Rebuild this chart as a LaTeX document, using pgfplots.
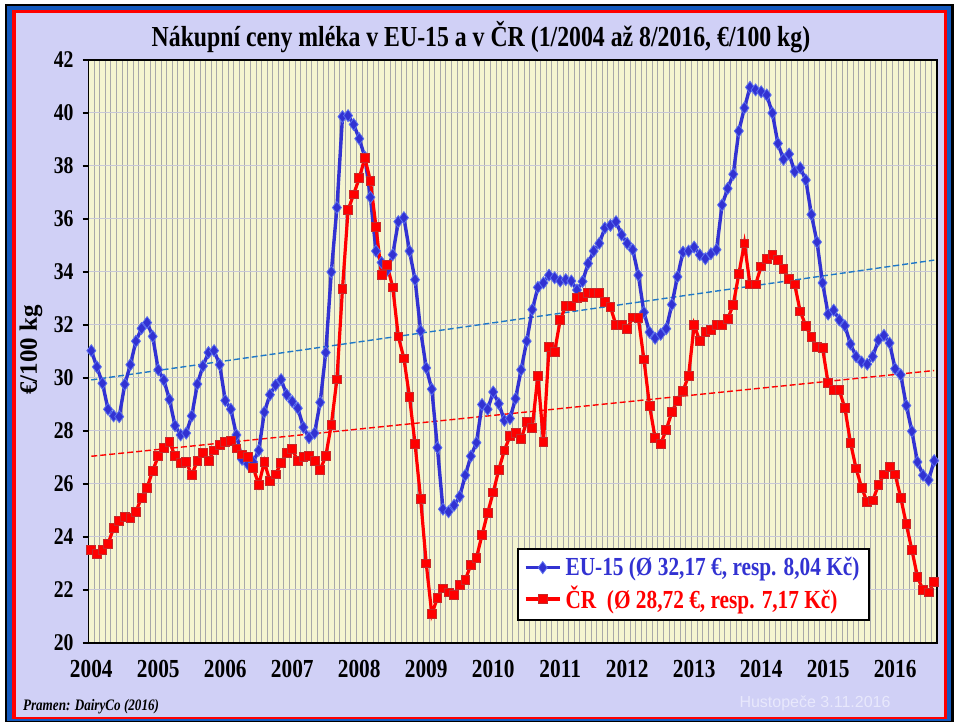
\documentclass[border=0pt]{standalone}
\usepackage{fontspec}
\setmainfont{Liberation Serif}[FakeStretch=0.82]
\newfontfamily\plainserif{Liberation Serif}
\newfontfamily\hfont{Liberation Sans}
\usepackage{pgfplots}
\usepackage{pgfplotstable}
\pgfplotsset{compat=1.18}
\definecolor{lav}{RGB}{208,208,246}
\definecolor{frameblue}{RGB}{20,90,190}
\definecolor{plotyellow}{RGB}{245,245,208}
\definecolor{vgrid}{RGB}{168,168,168}
\definecolor{hgrid}{RGB}{200,200,215}
\definecolor{eublue}{RGB}{50,50,210}
\definecolor{eumark}{RGB}{90,110,240}
\definecolor{crred}{RGB}{255,0,0}
\definecolor{crmark}{RGB}{200,40,40}
\definecolor{trendblue}{RGB}{30,120,200}
\definecolor{footwhite}{RGB}{232,232,252}

% month index (0 = 1/2004), EU-15, CR  [EUR/100 kg]
\pgfplotstableread{
m eu cr
0 31.03 23.51
1 30.42 23.36
2 29.80 23.51
3 28.82 23.75
4 28.57 24.33
5 28.54 24.62
6 29.76 24.76
7 30.50 24.71
8 31.39 24.95
9 31.87 25.49
10 32.09 25.86
11 31.57 26.50
12 30.31 27.05
13 29.92 27.37
14 29.19 27.60
15 28.20 27.05
16 27.85 26.79
17 27.92 26.83
18 28.57 26.33
19 29.77 26.88
20 30.45 27.17
21 30.96 26.88
22 31.03 27.27
23 30.50 27.49
24 29.15 27.60
25 28.82 27.63
26 27.85 27.34
27 26.93 27.12
28 26.76 27.01
29 26.83 26.62
30 27.27 25.97
31 28.71 26.83
32 29.37 26.11
33 29.73 26.36
34 29.94 26.80
35 29.37 27.17
36 29.11 27.31
37 28.86 26.86
38 28.14 27.01
39 27.75 27.05
40 27.92 26.88
41 29.08 26.54
42 30.96 27.05
43 34.00 28.24
44 36.43 29.95
45 39.86 33.37
46 39.90 36.34
47 39.57 36.93
48 39.03 37.54
49 38.34 38.30
50 36.82 37.44
51 34.79 35.70
52 34.36 33.88
53 34.07 34.26
54 34.65 33.42
55 35.90 31.57
56 36.05 30.74
57 34.79 29.29
58 33.71 27.51
59 31.78 25.43
60 30.38 23.00
61 29.58 21.09
62 27.37 21.70
63 25.05 22.06
64 24.95 21.91
65 25.20 21.81
66 25.53 22.20
67 26.33 22.38
68 27.05 22.96
69 27.56 23.22
70 29.00 24.08
71 28.82 24.91
72 29.47 25.68
73 29.03 26.54
74 28.40 27.27
75 28.47 27.80
76 29.22 27.92
77 30.31 27.70
78 31.39 28.35
79 32.58 28.13
80 33.42 30.09
81 33.59 27.60
82 33.88 31.18
83 33.78 30.99
84 33.66 32.19
85 33.71 32.72
86 33.66 32.72
87 33.32 33.01
88 33.64 33.06
89 34.32 33.20
90 34.79 33.20
91 35.08 33.20
92 35.66 32.87
93 35.76 32.67
94 35.90 32.00
95 35.40 32.00
96 35.08 31.86
97 34.84 32.29
98 33.88 32.26
99 32.48 30.70
100 31.73 28.96
101 31.50 27.74
102 31.65 27.51
103 31.86 28.05
104 32.77 28.71
105 33.82 29.15
106 34.75 29.51
107 34.79 30.09
108 34.94 32.00
109 34.65 31.39
110 34.50 31.75
111 34.69 31.80
112 34.84 32.00
113 36.53 32.00
114 37.15 32.22
115 37.69 32.77
116 39.32 33.93
117 40.19 35.08
118 40.97 33.53
119 40.87 33.53
120 40.80 34.21
121 40.68 34.50
122 40.00 34.65
123 38.85 34.46
124 38.25 34.11
125 38.45 33.74
126 37.79 33.53
127 37.93 32.51
128 37.47 31.97
129 36.17 31.54
130 35.13 31.18
131 33.59 31.13
132 32.41 29.80
133 32.56 29.54
134 32.19 29.54
135 31.97 28.86
136 31.28 27.56
137 30.81 26.59
138 30.60 25.86
139 30.52 25.31
140 30.81 25.38
141 31.43 25.96
142 31.61 26.36
143 31.32 26.64
144 30.35 26.36
145 30.12 25.49
146 28.96 24.48
147 27.99 23.51
148 26.83 22.50
149 26.33 21.99
150 26.15 21.91
151 26.88 22.30
}\milk

\begin{document}
\begin{tikzpicture}
% frame and background, in pixel units of the 954x722 reference
\begin{scope}[x=0.5pt,y=0.5pt]
\useasboundingbox (0,0) rectangle (954,722);
\fill[white] (0,0) rectangle (954,722);
\fill[black] (5,0) rectangle (954,718);
\fill[frameblue] (7,1.3) rectangle (951,716);
\fill[crred] (12,3) rectangle (947,712);
\fill[lav] (16,5) rectangle (944,709);
\end{scope}

\begin{axis}[
  at={(44.25pt,39.5pt)}, anchor=south west,
  scale only axis, width=424.25pt, height=291.5pt,
  xmin=-0.5, xmax=151.5, ymin=20, ymax=42,
  ytick={20,22,...,42},
  xtick={0,12,...,144},
  xticklabels={2004,2005,2006,2007,2008,2009,2010,2011,2012,2013,2014,2015,2016},
  minor xtick={-0.5,0.5,...,151.5},
  xminorgrids=true, ymajorgrids=true,
  minor x grid style={vgrid, line width=0.4pt},
  major y grid style={hgrid, line width=0.5pt},
  axis background/.style={fill=plotyellow},
  axis line style={black, line width=0.9pt},
  tick align=outside, tick pos=left,
  major tick length=3pt, minor tick length=2pt,
  ytick style={black, line width=0.8pt},
  xtick style={draw=none},
  minor x tick style={vgrid!70, line width=0.4pt},
  /pgf/number format/assume math mode=true,
  yticklabel style={font=\bfseries\fontsize{12}{12}\selectfont, xshift=-1pt},
  xticklabel style={font=\bfseries\fontsize{13}{13}\selectfont, yshift=-2pt},
  legend style={at={(0.505,0.163)}, anchor=north west, draw=black,
    line width=1pt, fill=white, inner xsep=3pt, inner ysep=2pt,
    font=\bfseries\fontsize{13}{15}\selectfont, row sep=0pt,
    cells={anchor=west}},
]
\addplot[trendblue, line width=0.7pt, dash pattern=on 3pt off 1.5pt, forget plot]
  table[x=m, y={create col/linear regression={y=eu}}] {\milk};
\addplot[crred, line width=0.7pt, dash pattern=on 3pt off 1.5pt, forget plot]
  table[x=m, y={create col/linear regression={y=cr}}] {\milk};
\addplot[eublue, line width=1.7pt, mark=diamond*, mark size=3pt,
  mark options={fill=eublue, draw=eumark, line width=0.4pt}]
  table[x=m, y=eu] {\milk};
\addlegendentry{\textcolor{eublue}{EU-15 (Ø 32,17 €, resp. 8,04 Kč)}}
\addplot[crred, line width=1.6pt, mark=square*, mark size=2.2pt,
  mark options={fill=crred, draw=crmark, line width=0.4pt}]
  table[x=m, y=cr] {\milk};
\addlegendentry{\textcolor{crred}{ČR\ \ (Ø 28,72 €, resp. 7,17 Kč)}}
\end{axis}

\begin{scope}[x=0.5pt,y=0.5pt]
\node[font=\bfseries\fontsize{14.5}{16}\selectfont] at (481,685)
  {Nákupní ceny mléka v EU-15 a v ČR (1/2004 až 8/2016, €/100 kg)};
\node[rotate=90, font=\plainserif\bfseries\fontsize{12.5}{14}\selectfont] at (31,372) {€/100 kg};
\node[anchor=west, font=\bfseries\itshape\fontsize{8}{9}\selectfont] at (16,15) {Pramen: DairyCo (2016)};
\node[font=\hfont\fontsize{8}{9}\selectfont, text=footwhite] at (815,19) {Hustopeče 3.11.2016};
\end{scope}
\end{tikzpicture}
\end{document}
